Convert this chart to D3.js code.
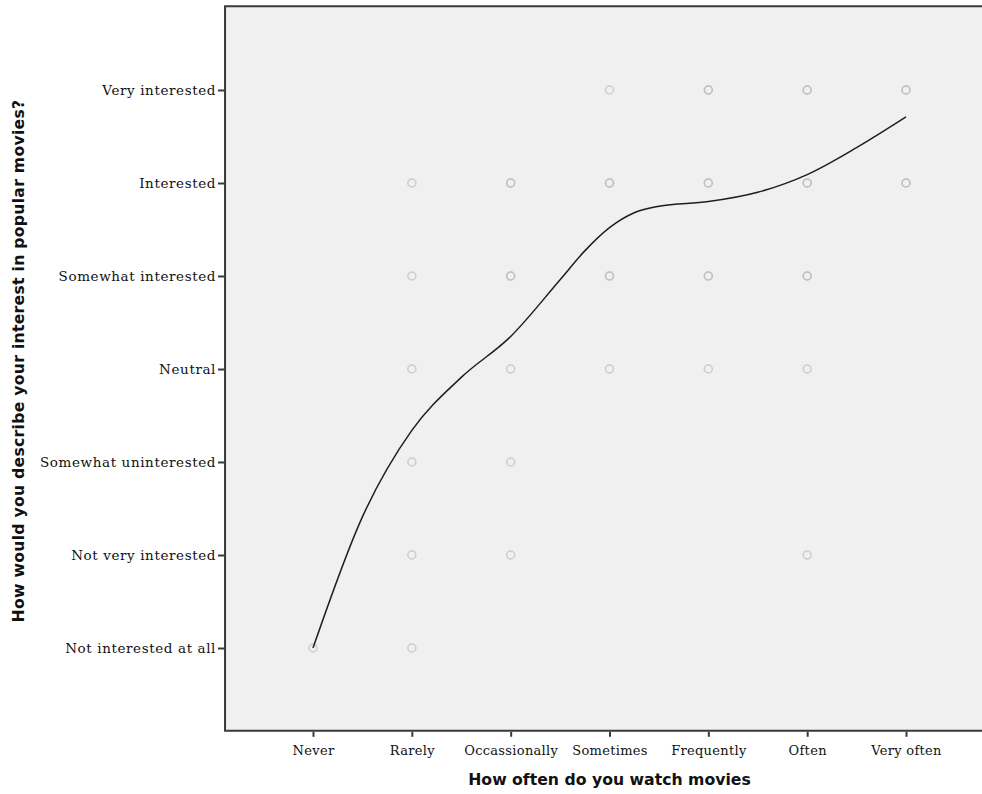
<!DOCTYPE html>
<html><head><meta charset="utf-8">
<script src="https://cdn.jsdelivr.net/npm/d3@7"></script>
<style>body{margin:0;background:#fff}</style>
</head><body>
<svg id="c" width="982" height="794"></svg>
<script>
const xCategories = ["Never","Rarely","Occassionally","Sometimes","Frequently","Often","Very often"];
const yCategories = ["Not interested at all","Not very interested","Somewhat uninterested","Neutral","Somewhat interested","Interested","Very interested"];
// observed combinations (x index, y index, overplot count)
const pointX =     [0, 1,1,1,1,1,1, 2,2,2,2,2, 3,3,3,3, 4,4,4,4, 5,5,5,5,5, 6,6];
const pointY =     [0, 0,1,2,3,4,5, 1,2,3,4,5, 3,4,5,6, 3,4,5,6, 1,3,4,5,6, 5,6];
const pointCount = [1, 1,1,1,1,1,1, 1,1,1,2,2, 1,2,2,1, 1,2,2,2, 1,1,2,2,2, 2,2];
// fitted (loess) line values
const fitX = [0,0.5,1,1.5,2,2.5,2.75,3,3.25,3.5,4,4.5,5,5.5,6];
const fitY = [0,1.41,2.34,2.91,3.35,3.96,4.27,4.52,4.68,4.75,4.80,4.90,5.09,5.38,5.71];

const svg = d3.select("#c");
const x = d3.scaleLinear().domain([0,6]).range([313,906]);
const y = d3.scaleLinear().domain([0,6]).range([648,90]);
const x0 = x(-0.89), x1 = x(6.89), yT = y(6.9), yB = y(-0.89);

svg.append("rect").attr("x",x0).attr("y",yT).attr("width",x1-x0).attr("height",yB-yT)
  .attr("fill","#f0f0f0").attr("stroke","none");

const pts = [];
pointX.forEach((d,i)=>{ for(let k=0;k<pointCount[i];k++) pts.push([d,pointY[i]]); });
svg.append("g").selectAll("circle").data(pts).join("circle")
  .attr("cx",d=>x(d[0])).attr("cy",d=>y(d[1])).attr("r",4)
  .attr("fill","none").attr("stroke","#b8b8b8").attr("stroke-opacity",0.65).attr("stroke-width",1.5);

const line = d3.line().x(d=>x(d[0])).y(d=>y(d[1])).curve(d3.curveMonotoneX);
svg.append("path").datum(fitX.map((d,i)=>[d,fitY[i]])).attr("d",line)
  .attr("fill","none").attr("stroke","#1e1e1e").attr("stroke-width",1.5);

// frame
svg.append("path").attr("d",`M${x1},${yT}H${x0}V${yB}H${x1}`).attr("fill","none")
  .attr("stroke","#3a3a3a").attr("stroke-width",2);

const xAxis = d3.axisBottom(x).tickValues(d3.range(7)).tickFormat(i=>xCategories[i]).tickSize(5).tickSizeOuter(0);
const gx = svg.append("g").attr("transform",`translate(0,${yB+1})`).call(xAxis);
gx.select(".domain").remove();
gx.selectAll(".tick line").attr("stroke","#3a3a3a").attr("stroke-width",2);
gx.selectAll(".tick text").attr("font-family","'DejaVu Serif', serif").attr("font-size",13).attr("letter-spacing",0.3).attr("fill","#111").attr("dy","1.15em");

const yAxis = d3.axisLeft(y).tickValues(d3.range(7)).tickFormat(i=>yCategories[i]).tickSize(6).tickSizeOuter(0);
const gy = svg.append("g").attr("transform",`translate(${x0-1},0)`).call(yAxis);
gy.select(".domain").remove();
gy.selectAll(".tick line").attr("stroke","#3a3a3a").attr("stroke-width",2);
gy.selectAll(".tick text").attr("font-family","'DejaVu Serif', serif").attr("font-size",13.5).attr("letter-spacing",0.6).attr("fill","#111").attr("x",-8);

svg.append("text").attr("x",(x0+x1)/2).attr("y",785).attr("text-anchor","middle")
  .attr("font-family","'DejaVu Sans', sans-serif").attr("font-weight","bold").attr("font-size",15.7).attr("fill","#111")
  .text("How often do you watch movies");
svg.append("text").attr("transform",`translate(24,361) rotate(-90)`).attr("text-anchor","middle")
  .attr("font-family","'DejaVu Sans', sans-serif").attr("font-weight","bold").attr("font-size",15.7).attr("letter-spacing",0.25).attr("fill","#111")
  .text("How would you describe your interest in popular movies?");
</script>
</body></html>
